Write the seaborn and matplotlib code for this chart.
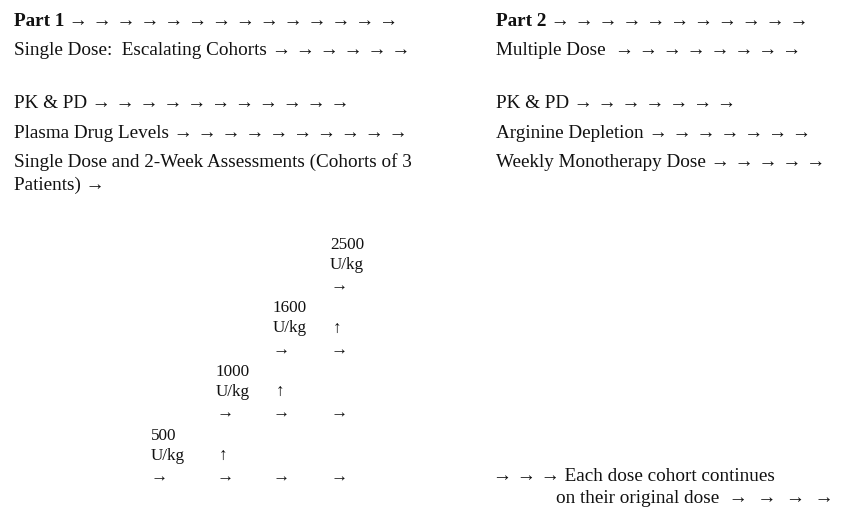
import matplotlib
matplotlib.use("Agg")
import matplotlib.pyplot as plt
import seaborn as sns

# ---- content ----
left_titles = ["Part 1", "Single Dose:  Escalating Cohorts ", "PK & PD", "Plasma Drug Levels",
               "Single Dose and 2-Week Assessments (Cohorts of 3"]
left_arrows = [14, 6, 11, 10, 0]
left_bold = [True, False, False, False, False]
left_wrap = "Patients) \u2192"

right_titles = ["Part 2", "Multiple Dose  ", "PK & PD", "Arginine Depletion", "Weekly Monotherapy Dose"]
right_arrows = [11, 8, 7, 7, 5]
right_bold = [True, False, False, False, False]

dose_values = ["500", "1000", "1600", "2500"]
dose_unit = "U/kg"

note_line1 = "\u2192 \u2192 \u2192 Each dose cohort continues"
note_line2 = "on their original dose  \u2192  \u2192  \u2192  \u2192"

# ---- style ----
sns.set_theme(style="white")
plt.rcParams["font.family"] = ["Liberation Serif", "DejaVu Serif"]
FS = 13.8
FS_STAIR = 12.3
INK = "#111111"

fig = plt.figure(figsize=(8.6, 5.08), dpi=100)
ax = fig.add_axes([0, 0, 1, 1])
ax.set_xlim(0, 860)
ax.set_ylim(508, 0)
ax.axis("off")

ARROW = "\u2192"
baselines = [26, 55, 108, 138, 167]


def draw_line(x, y, title, n, bold):
    t = ax.text(x, y, title, fontsize=FS, va="baseline", ha="left",
                fontweight="bold" if bold else "normal", color=INK)
    if n > 0:
        sep = " " if not title.endswith(" ") else ""
        ax.annotate(sep + " ".join([ARROW] * n), xy=(1, 0), xycoords=t,
                    fontsize=FS, va="bottom", ha="left", color=INK)


for i, (t, n, b) in enumerate(zip(left_titles, left_arrows, left_bold)):
    draw_line(14, baselines[i], t, n, b)
ax.text(14, 190, left_wrap, fontsize=FS, va="baseline", ha="left", color=INK)

for i, (t, n, b) in enumerate(zip(right_titles, right_arrows, right_bold)):
    draw_line(496, baselines[i], t, n, b)

# ---- staircase of dose cohorts ----
col_x = [151, 216, 273, 330]
step = 63.5
base_top = 249  # baseline of top value (2500)
nd = len(dose_values)
for k, val in enumerate(dose_values):
    level = nd - 1 - k
    y0 = base_top + level * step
    ax.text(col_x[k], y0, val, fontsize=FS_STAIR, va="baseline", ha="left", color=INK)
    ax.text(col_x[k], y0 + 20, dose_unit, fontsize=FS_STAIR, va="baseline", ha="left", color=INK)
    for c in range(k, nd):
        ax.text(col_x[c], y0 + 42, ARROW, fontsize=FS_STAIR, va="baseline", ha="left", color=INK)
    if k + 1 < nd:
        ax.text(col_x[k + 1] + 3, y0 + 20, "\u2191", fontsize=FS_STAIR, va="baseline", ha="left",
                color=INK)

ax.text(493, 481, note_line1, fontsize=FS, va="baseline", ha="left", color=INK)
ax.text(556, 503, note_line2, fontsize=FS, va="baseline", ha="left", color=INK)

fig.savefig("out.png", dpi=100, facecolor="white")
